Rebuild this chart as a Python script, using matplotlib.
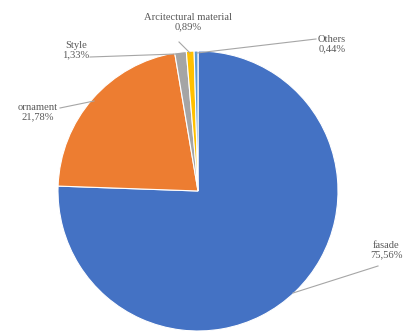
import matplotlib
matplotlib.use("Agg")
import matplotlib.pyplot as plt

categories = ["fasade", "ornament", "Style", "Arcitectural material", "Others"]
values = [75.56, 21.78, 1.33, 0.89, 0.44]
colors = ["#4472C4", "#ED7D31", "#A5A5A5", "#FFC000", "#5B9BD5"]

W, H = 411, 331
fig = plt.figure(figsize=(W / 100, H / 100), dpi=100)
ax = fig.add_axes([0, 0, 1, 1])

cx, cy, r = 198, H - 191, 140
ax.pie(values, colors=colors, startangle=90, counterclock=False,
       center=(cx, cy), radius=r, frame=True,
       wedgeprops=dict(edgecolor="white", linewidth=0.8))
ax.set_xlim(0, W)
ax.set_ylim(0, H)
ax.set_aspect("equal")
ax.axis("off")

def pct(v):
    return f"{v:.2f}".replace(".", ",") + "%"

# label text position (pixel coords, top-left origin) and leader line points
labels = {
    "fasade": ((386, 250), [(378, 266), (293, 293)]),
    "ornament": ((38, 112), [(60, 108), (94, 101)]),
    "Style": ((76, 50), [(90, 57), (176, 54)]),
    "Arcitectural material": ((188, 22), [(179, 42), (190, 53)]),
    "Others": ((332, 44), [(316, 39), (197, 53)]),
}

txt_color = "#595959"
line_color = "#A6A6A6"
for name, v in zip(categories, values):
    (tx, ty), pts = labels[name]
    ax.text(tx, H - ty, f"{name}\n{pct(v)}", ha="center", va="center",
            fontsize=7.6, color=txt_color, family="Liberation Serif",
            linespacing=1.1)
    xs = [p[0] for p in pts]
    ys = [H - p[1] for p in pts]
    ax.plot(xs, ys, color=line_color, lw=0.8)

fig.savefig("out.png", dpi=100, facecolor="white")
